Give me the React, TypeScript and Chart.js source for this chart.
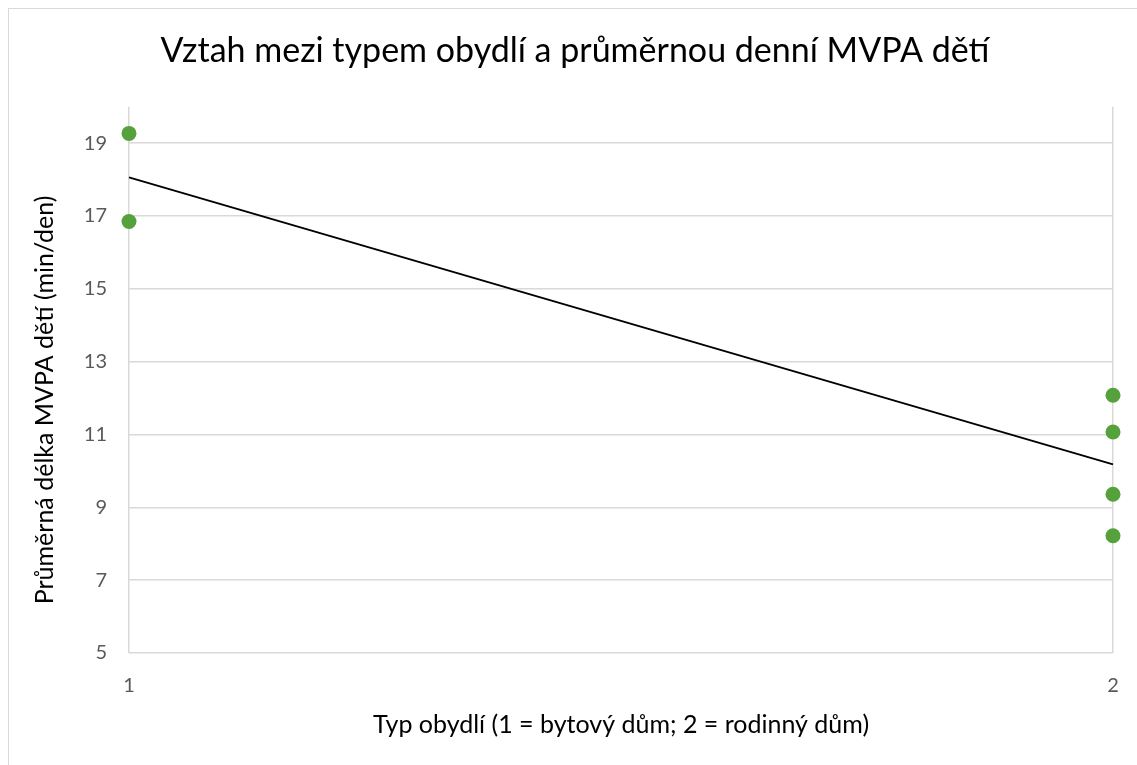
import React, { useEffect, useRef } from "react";
import { Chart, registerables } from "chart.js";

Chart.register(...registerables);

const CHART_TITLE = "Vztah mezi typem obydlí a průměrnou denní MVPA dětí";
const X_TITLE = "Typ obydlí (1 = bytový dům; 2 = rodinný dům)";
const Y_TITLE = "Průměrná délka MVPA dětí (min/den)";

const POINT_X = [1, 1, 2, 2, 2, 2];
const POINT_Y = [19.27, 16.85, 12.08, 11.07, 9.36, 8.22];
const TREND_X = [1, 2];
const TREND_Y = [18.06, 10.18];
const Y_TICKS = [5, 7, 9, 11, 13, 15, 17, 19];
const X_TICKS = [1, 2];

const FONT = "Lato";
const GRID = "#d9d9d9";

const yTitlePlugin = {
  id: "yTitleCustom",
  afterDraw(chart: any) {
    const { ctx, chartArea } = chart;
    ctx.save();
    ctx.translate(36, (chartArea.top + chartArea.bottom) / 2 + 20);
    ctx.rotate(-Math.PI / 2);
    ctx.font = `25px ${FONT}`;
    ctx.fillStyle = "#000000";
    ctx.textAlign = "center";
    ctx.textBaseline = "middle";
    ctx.fillText(Y_TITLE, 0, 0);
    ctx.restore();
  },
};

export default function App() {
  const ref = useRef<HTMLCanvasElement | null>(null);

  useEffect(() => {
    if (!ref.current) return;
    const chart = new Chart(ref.current, {
      type: "scatter",
      data: {
        datasets: [
          {
            type: "scatter",
            data: POINT_X.map((x, i) => ({ x, y: POINT_Y[i] })),
            backgroundColor: "#55a13b",
            borderColor: "#55a13b",
            borderWidth: 0,
            pointRadius: 7.5,
            clip: false,
            order: 0,
          } as any,
          {
            type: "line",
            data: TREND_X.map((x, i) => ({ x, y: TREND_Y[i] })),
            borderColor: "#000000",
            borderWidth: 1.75,
            pointRadius: 0,
            fill: false,
            clip: false,
            order: 1,
          } as any,
        ],
      },
      options: {
        responsive: false,
        animation: false,
        layout: { padding: { top: 0, right: 24, bottom: 0, left: 28 } },
        plugins: {
          legend: { display: false },
          tooltip: { enabled: false },
          title: {
            display: true,
            text: CHART_TITLE,
            color: "#000000",
            font: { family: FONT, size: 34, weight: "normal" as any },
            padding: { top: 22, bottom: 35 },
          },
        },
        scales: {
          x: {
            type: "linear",
            min: 1,
            max: 2,
            afterBuildTicks: (s: any) => {
              s.ticks = X_TICKS.map((v) => ({ value: v }));
            },
            afterFit: (s: any) => {
              s.height = 112;
              s.paddingLeft = 0;
              s.paddingRight = 0;
            },
            grid: { color: GRID, lineWidth: 1.5, drawTicks: false },
            border: { display: false },
            ticks: {
              color: "#595959",
              font: { family: FONT, size: 20 },
              padding: 21,
              maxRotation: 0,
            },
            title: {
              display: true,
              text: X_TITLE,
              color: "#000000",
              font: { family: FONT, size: 25 },
              padding: { top: 0, bottom: 25 },
            },
          },
          y: {
            type: "linear",
            min: 5,
            max: 20,
            afterBuildTicks: (s: any) => {
              s.ticks = Y_TICKS.map((v) => ({ value: v }));
            },
            afterFit: (s: any) => {
              s.width = 92;
            },
            grid: { color: GRID, lineWidth: 1.5, drawTicks: false },
            border: { display: false },
            ticks: {
              color: "#595959",
              font: { family: FONT, size: 20 },
              padding: 22,
            },
          },
        },
      } as any,
      plugins: [yTitlePlugin],
    });
    return () => chart.destroy();
  }, []);

  return (
    <div
      style={{
        position: "fixed",
        left: 8,
        top: 8,
        right: 0,
        bottom: 0,
        borderLeft: "1px solid #d9d9d9",
        borderTop: "1px solid #d9d9d9",
        background: "#ffffff",
        overflow: "hidden",
      }}
    >
      <canvas ref={ref} width={1128} height={756} style={{ display: "block" }} />
    </div>
  );
}
